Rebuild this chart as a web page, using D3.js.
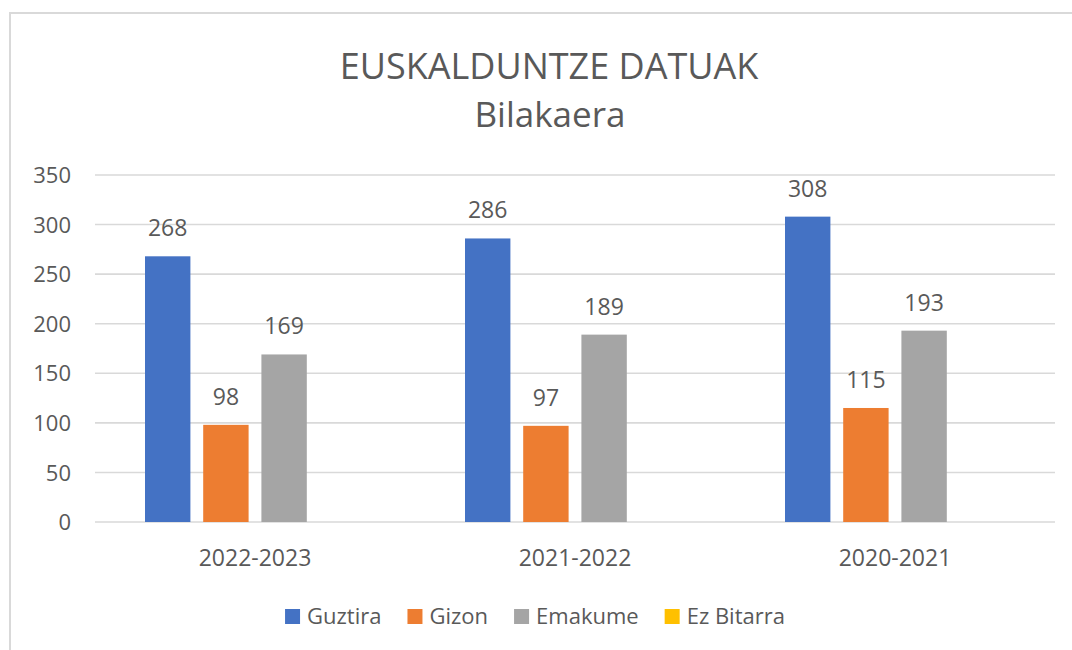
<!DOCTYPE html>
<html>
<head>
<meta charset="utf-8">
<script src="https://cdn.jsdelivr.net/npm/d3@7"></script>
<style>
  body { margin: 0; background: #fff; }
  text { font-family: "Open Sans", "Noto Sans", sans-serif; fill: #595959; }
</style>
</head>
<body>
<div class="chart"></div>
<script>
// Chart data
var categories = ["2022-2023", "2021-2022", "2020-2021"];
var seriesNames = ["Guztira", "Gizon", "Emakume", "Ez Bitarra"];
var guztira = [268, 286, 308];
var gizon = [98, 97, 115];
var emakume = [169, 189, 193];
var ezBitarra = [null, null, null];
var yTicks = [0, 50, 100, 150, 200, 250, 300, 350];
var colors = ["#4472C4", "#ED7D31", "#A5A5A5", "#FFC000"];

var width = 1072, height = 650;
var plot = {left: 95, right: 1055, top: 175, bottom: 522};

var values = [guztira, gizon, emakume, ezBitarra];

var svg = d3.select("div.chart")
  .append("svg")
    .attr("width", width)
    .attr("height", height);

// Chart frame (cut off at right and bottom)
svg.append("rect")
  .attr("x", 10).attr("y", 13)
  .attr("width", 1100).attr("height", 700)
  .attr("fill", "#fff")
  .attr("stroke", "#d9d9d9")
  .attr("stroke-width", 2);

// Titles
svg.append("text")
  .attr("x", 549).attr("y", 79)
  .attr("text-anchor", "middle")
  .style("font-size", "36px")
  .text("EUSKALDUNTZE DATUAK");

svg.append("text")
  .attr("x", 550).attr("y", 127)
  .attr("text-anchor", "middle")
  .style("font-size", "35px")
  .text("Bilakaera");

// Scales
var y = d3.scaleLinear()
  .domain([0, 350])
  .range([plot.bottom, plot.top]);

var x0 = d3.scaleBand()
  .domain(categories)
  .range([plot.left, plot.right]);

var x1 = d3.scaleBand()
  .domain(seriesNames)
  .range([50, x0.bandwidth() - 50])
  .paddingInner(0.22);

// Gridlines
svg.append("g")
  .selectAll("line")
  .data(yTicks)
  .enter().append("line")
    .attr("x1", plot.left)
    .attr("x2", plot.right)
    .attr("y1", function(d) { return y(d); })
    .attr("y2", function(d) { return y(d); })
    .style("stroke", "#d9d9d9")
    .style("stroke-width", 1.6);

// Y axis labels
var yAxis = svg.append("g")
  .attr("transform", "translate(" + (plot.left - 24) + ",0)")
  .call(d3.axisLeft(y).tickValues(yTicks).tickSize(0).tickPadding(0));
yAxis.select(".domain").remove();
yAxis.selectAll("text")
  .style("font-size", "22px")
  .style("font-family", null)
  .attr("fill", null)
  .attr("dy", "0.35em");

// X axis labels
var xAxis = svg.append("g")
  .attr("transform", "translate(0," + plot.bottom + ")")
  .call(d3.axisBottom(x0).tickSize(0).tickPadding(0));
xAxis.select(".domain").remove();
xAxis.selectAll("text")
  .style("font-size", "23px")
  .style("font-family", null)
  .attr("fill", null)
  .attr("dy", "0")
  .attr("y", 44);

// Build rows for bars
var rows = categories.map(function(c, i) {
  return {
    category: c,
    items: seriesNames.map(function(s, j) {
      return {series: s, value: values[j][i], color: colors[j]};
    })
  };
});

var groups = svg.append("g")
  .selectAll("g")
  .data(rows)
  .enter().append("g")
    .attr("transform", function(d) { return "translate(" + x0(d.category) + ",0)"; });

groups.selectAll("rect")
  .data(function(d) { return d.items.filter(function(e) { return e.value != null; }); })
  .enter().append("rect")
    .attr("x", function(d) { return x1(d.series); })
    .attr("width", x1.bandwidth())
    .attr("y", function(d) { return y(d.value); })
    .attr("height", function(d) { return y(0) - y(d.value); })
    .style("fill", function(d) { return d.color; });

// Data labels
groups.selectAll("text.label")
  .data(function(d) { return d.items.filter(function(e) { return e.value != null; }); })
  .enter().append("text")
    .attr("class", "label")
    .attr("x", function(d) { return x1(d.series) + x1.bandwidth() / 2; })
    .attr("y", function(d) { return y(d.value) - 20; })
    .attr("text-anchor", "middle")
    .style("font-size", "23px")
    .text(function(d) { return d.value; });

// Legend
var legend = svg.append("g").attr("class", "legend");
var items = legend.selectAll("g")
  .data(seriesNames)
  .enter().append("g");

items.append("rect")
  .attr("width", 15).attr("height", 15)
  .attr("y", 609)
  .style("fill", function(d, i) { return colors[i]; });

items.append("text")
  .attr("x", 22)
  .attr("y", 624)
  .style("font-size", "22px")
  .text(function(d) { return d; });

// Lay out legend items horizontally, centred
var offsets = [], pos = 0;
items.each(function() {
  offsets.push(pos);
  pos += 22 + d3.select(this).select("text").node().getComputedTextLength() + 26;
});
var total = pos - 26;
var start = 535 - total / 2;
items.attr("transform", function(d, i) { return "translate(" + (start + offsets[i]) + ",0)"; });
</script>
</body>
</html>
